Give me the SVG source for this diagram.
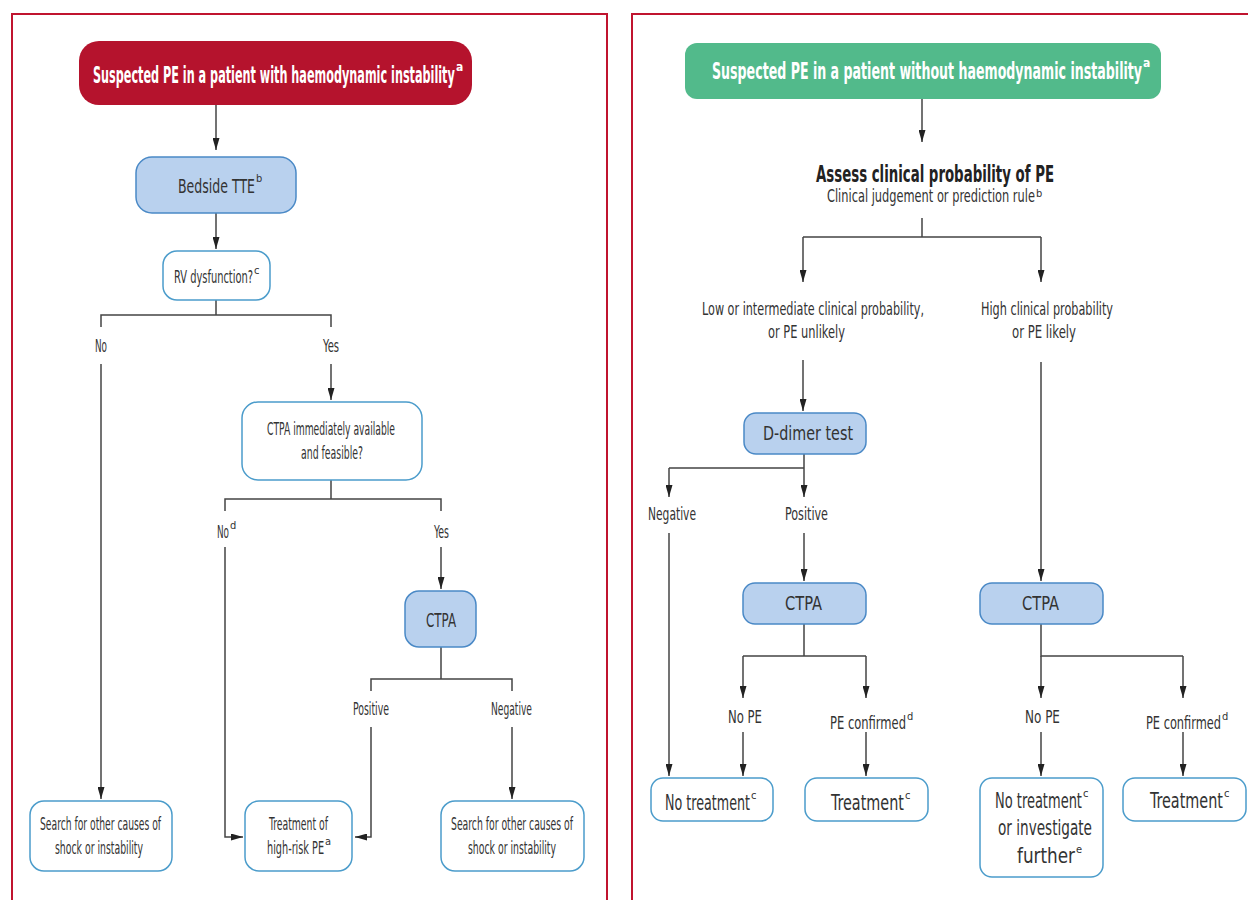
<svg xmlns="http://www.w3.org/2000/svg" width="1248" height="900" viewBox="0 0 1248 900">
<defs>
<style>
text{font-family:"DejaVu Sans Condensed","Liberation Sans Narrow","Liberation Sans",Arial,sans-serif;fill:#333}
.hd{font-weight:bold;fill:#fff;font-size:23px}
.hs{font-weight:bold;fill:#fff;font-size:12px}
.b{font-weight:bold;font-size:23px;fill:#222}
.l{font-size:17px}
.m{font-size:20px}
.g{font-size:22px}
.s{font-size:11px}
.conn{stroke:#444;stroke-width:1.5;fill:none}
.blue{fill:#b9d1ee;stroke:#4a89c6;stroke-width:1.5}
.white{fill:#fff;stroke:#4b9ccb;stroke-width:1.5}
.panel{fill:none;stroke:#c0142f;stroke-width:2}
</style>
<marker id="ah" viewBox="0 0 12 7" refX="12" refY="3.5" markerWidth="12" markerHeight="7" markerUnits="userSpaceOnUse" orient="auto">
<path d="M0,0 L12,3.5 L0,7 z" fill="#222"/>
</marker>
</defs>
<rect width="1248" height="900" fill="#fff"/>
<rect class="panel" x="12" y="14" width="595" height="900"/>
<rect class="panel" x="632" y="14" width="620" height="900"/>

<g id="connectors">
<path class="conn" d="M216,105 V150" marker-end="url(#ah)"/>
<path class="conn" d="M216,213 V249" marker-end="url(#ah)"/>
<path class="conn" d="M216,300 V315 M101,327 V315 H331 V327"/>
<path class="conn" d="M101,364 V799" marker-end="url(#ah)"/>
<path class="conn" d="M331,364 V400" marker-end="url(#ah)"/>
<path class="conn" d="M331,480 V499 M225,511 V499 H441 V511"/>
<path class="conn" d="M225,547 V837 H243" marker-end="url(#ah)"/>
<path class="conn" d="M441,547 V589" marker-end="url(#ah)"/>
<path class="conn" d="M441,647 V679 M371,691 V679 H512 V691"/>
<path class="conn" d="M371,727 V837 H355" marker-end="url(#ah)"/>
<path class="conn" d="M512,727 V799" marker-end="url(#ah)"/>

<path class="conn" d="M922,99 V142" marker-end="url(#ah)"/>
<path class="conn" d="M922,218 V237 M803,237 H1041"/>
<path class="conn" d="M803,237 V282" marker-end="url(#ah)"/>
<path class="conn" d="M1041,237 V282" marker-end="url(#ah)"/>
<path class="conn" d="M803,360 V411" marker-end="url(#ah)"/>
<path class="conn" d="M804,454 V468 M669,468 H804"/>
<path class="conn" d="M669,468 V497" marker-end="url(#ah)"/>
<path class="conn" d="M804,468 V497" marker-end="url(#ah)"/>
<path class="conn" d="M669,533 V776" marker-end="url(#ah)"/>
<path class="conn" d="M804,533 V581" marker-end="url(#ah)"/>
<path class="conn" d="M1041,362 V581" marker-end="url(#ah)"/>
<path class="conn" d="M804,624 V656 M743,656 H866"/>
<path class="conn" d="M743,656 V698" marker-end="url(#ah)"/>
<path class="conn" d="M866,656 V698" marker-end="url(#ah)"/>
<path class="conn" d="M1041,624 V656 H1183"/>
<path class="conn" d="M1041,656 V698" marker-end="url(#ah)"/>
<path class="conn" d="M1183,656 V698" marker-end="url(#ah)"/>
<path class="conn" d="M743,732 V776" marker-end="url(#ah)"/>
<path class="conn" d="M866,732 V776" marker-end="url(#ah)"/>
<path class="conn" d="M1041,732 V776" marker-end="url(#ah)"/>
<path class="conn" d="M1183,732 V776" marker-end="url(#ah)"/>
</g>

<g id="labels">
<text class="l" transform="translate(95,352) scale(0.58,1)" textLength="20.7" lengthAdjust="spacingAndGlyphs">No</text>
<text class="l" transform="translate(323,352) scale(0.6,1)" textLength="26.7" lengthAdjust="spacingAndGlyphs">Yes</text>
<text class="l" transform="translate(217,538) scale(0.58,1)" textLength="20.7" lengthAdjust="spacingAndGlyphs">No</text>
<text class="s" x="230" y="529">d</text>
<text class="l" transform="translate(434,538) scale(0.56,1)" textLength="26.8" lengthAdjust="spacingAndGlyphs">Yes</text>
<text class="l" transform="translate(353,715) scale(0.6,1)" textLength="60" lengthAdjust="spacingAndGlyphs">Positive</text>
<text class="l" transform="translate(491,715) scale(0.6,1)" textLength="68.3" lengthAdjust="spacingAndGlyphs">Negative</text>
<text class="l" transform="translate(702,315) scale(0.71,1)" textLength="312.7" lengthAdjust="spacingAndGlyphs">Low or intermediate clinical probability,</text>
<text class="l" transform="translate(768,338) scale(0.74,1)" textLength="104" lengthAdjust="spacingAndGlyphs">or PE unlikely</text>
<text class="l" transform="translate(981,315) scale(0.73,1)" textLength="180.8" lengthAdjust="spacingAndGlyphs">High clinical probability</text>
<text class="l" transform="translate(1012,338) scale(0.76,1)" textLength="84.2" lengthAdjust="spacingAndGlyphs">or PE likely</text>
<text class="l" transform="translate(648,520) scale(0.7,1)" textLength="68.6" lengthAdjust="spacingAndGlyphs">Negative</text>
<text class="l" transform="translate(785,520) scale(0.72,1)" textLength="59.7" lengthAdjust="spacingAndGlyphs">Positive</text>
<text class="l" transform="translate(728,723) scale(0.76,1)" textLength="44.7" lengthAdjust="spacingAndGlyphs">No PE</text>
<text class="l" transform="translate(830,729) scale(0.75,1)" textLength="101.3" lengthAdjust="spacingAndGlyphs">PE confirmed</text>
<text class="s" x="907" y="720">d</text>
<text class="l" transform="translate(1025,723) scale(0.76,1)" textLength="46" lengthAdjust="spacingAndGlyphs">No PE</text>
<text class="l" transform="translate(1146,729) scale(0.75,1)" textLength="100" lengthAdjust="spacingAndGlyphs">PE confirmed</text>
<text class="s" x="1222" y="720">d</text>
</g>

<g id="start-unstable">
<rect x="79" y="41" width="393" height="64" rx="20" fill="#b5132d"/>
<text class="hd" transform="translate(93,83) scale(0.54,1)" textLength="670" lengthAdjust="spacingAndGlyphs">Suspected PE in a patient with haemodynamic instability</text>
<text class="hs" x="456" y="71">a</text>
</g>
<g id="bedside-tte">
<rect class="blue" x="136" y="157" width="160" height="56" rx="16"/>
<text class="m" transform="translate(178,193) scale(0.69,1)" textLength="111.6" lengthAdjust="spacingAndGlyphs">Bedside TTE</text>
<text class="s" x="256" y="182">b</text>
</g>
<g id="rv-dysfunction">
<rect class="white" x="163" y="251" width="107" height="49" rx="14"/>
<text class="l" transform="translate(174,283) scale(0.59,1)" textLength="133.9" lengthAdjust="spacingAndGlyphs">RV dysfunction?</text>
<text class="s" x="254" y="274">c</text>
</g>
<g id="ctpa-available">
<rect class="white" x="242" y="402" width="180" height="78" rx="16"/>
<text class="l" transform="translate(267,435) scale(0.6,1)" textLength="213.3" lengthAdjust="spacingAndGlyphs">CTPA immediately available</text>
<text class="l" transform="translate(301,459) scale(0.61,1)" textLength="101.6" lengthAdjust="spacingAndGlyphs">and feasible?</text>
</g>
<g id="ctpa-left">
<rect class="blue" x="405" y="591" width="71" height="56" rx="14"/>
<text class="m" transform="translate(426,627) scale(0.64,1)" textLength="46.9" lengthAdjust="spacingAndGlyphs">CTPA</text>
</g>
<g id="search-1">
<rect class="white" x="30" y="801" width="142" height="70" rx="14"/>
<text class="l" transform="translate(40,830) scale(0.6,1)" textLength="201.7" lengthAdjust="spacingAndGlyphs">Search for other causes of</text>
<text class="l" transform="translate(55,854) scale(0.61,1)" textLength="144.3" lengthAdjust="spacingAndGlyphs">shock or instability</text>
</g>
<g id="treatment-high-risk">
<rect class="white" x="245" y="801" width="107" height="70" rx="14"/>
<text class="l" transform="translate(269,830) scale(0.59,1)" textLength="100" lengthAdjust="spacingAndGlyphs">Treatment of</text>
<text class="l" transform="translate(267,854) scale(0.63,1)" textLength="90.5" lengthAdjust="spacingAndGlyphs">high-risk PE</text>
<text class="s" x="325" y="845">a</text>
</g>
<g id="search-2">
<rect class="white" x="441" y="801" width="143" height="70" rx="14"/>
<text class="l" transform="translate(451,830) scale(0.6,1)" textLength="203.3" lengthAdjust="spacingAndGlyphs">Search for other causes of</text>
<text class="l" transform="translate(468,854) scale(0.61,1)" textLength="144.3" lengthAdjust="spacingAndGlyphs">shock or instability</text>
</g>

<g id="start-stable">
<rect x="685" y="43" width="476" height="56" rx="12" fill="#52ba8b"/>
<text class="hd" transform="translate(712,79) scale(0.61,1)" textLength="705" lengthAdjust="spacingAndGlyphs">Suspected PE in a patient without haemodynamic instability</text>
<text class="hs" x="1143" y="67">a</text>
</g>
<g id="assess">
<text class="b" transform="translate(816,182) scale(0.66,1)" textLength="360.6" lengthAdjust="spacingAndGlyphs">Assess clinical probability of PE</text>
<text class="l" transform="translate(827,202) scale(0.74,1)" textLength="281" lengthAdjust="spacingAndGlyphs">Clinical judgement or prediction rule</text>
<text class="s" x="1036" y="197">b</text>
</g>
<g id="d-dimer">
<rect class="blue" x="744" y="413" width="122" height="41" rx="12"/>
<text class="m" transform="translate(763,440) scale(0.8,1)" textLength="112.5" lengthAdjust="spacingAndGlyphs">D-dimer test</text>
</g>
<g id="ctpa-r1">
<rect class="blue" x="743" y="583" width="123" height="41" rx="12"/>
<text class="m" transform="translate(785,610) scale(0.79,1)" textLength="46.8" lengthAdjust="spacingAndGlyphs">CTPA</text>
</g>
<g id="ctpa-r2">
<rect class="blue" x="980" y="583" width="123" height="41" rx="12"/>
<text class="m" transform="translate(1022,610) scale(0.79,1)" textLength="46.8" lengthAdjust="spacingAndGlyphs">CTPA</text>
</g>
<g id="no-treatment-1">
<rect class="white" x="651" y="778" width="122" height="43" rx="12"/>
<text class="g" transform="translate(665,810) scale(0.64,1)" textLength="132.8" lengthAdjust="spacingAndGlyphs">No treatment</text>
<text class="s" x="751" y="799">c</text>
</g>
<g id="treatment-1">
<rect class="white" x="805" y="778" width="123" height="43" rx="12"/>
<text class="g" transform="translate(831,810) scale(0.7,1)" textLength="104.3" lengthAdjust="spacingAndGlyphs">Treatment</text>
<text class="s" x="905" y="799">c</text>
</g>
<g id="no-treatment-2">
<rect class="white" x="980" y="778" width="123" height="99" rx="12"/>
<text class="g" transform="translate(995,808) scale(0.65,1)" textLength="133.8" lengthAdjust="spacingAndGlyphs">No treatment</text>
<text class="s" x="1083" y="797">c</text>
<text class="g" transform="translate(998,835) scale(0.69,1)" textLength="136.2" lengthAdjust="spacingAndGlyphs">or investigate</text>
<text class="g" transform="translate(1017,863) scale(0.85,1)" textLength="68.2" lengthAdjust="spacingAndGlyphs">further</text>
<text class="s" x="1076" y="853">e</text>
</g>
<g id="treatment-2">
<rect class="white" x="1123" y="778" width="123" height="43" rx="12"/>
<text class="g" transform="translate(1150,808) scale(0.7,1)" textLength="104.3" lengthAdjust="spacingAndGlyphs">Treatment</text>
<text class="s" x="1224" y="797">c</text>
</g>
</svg>
